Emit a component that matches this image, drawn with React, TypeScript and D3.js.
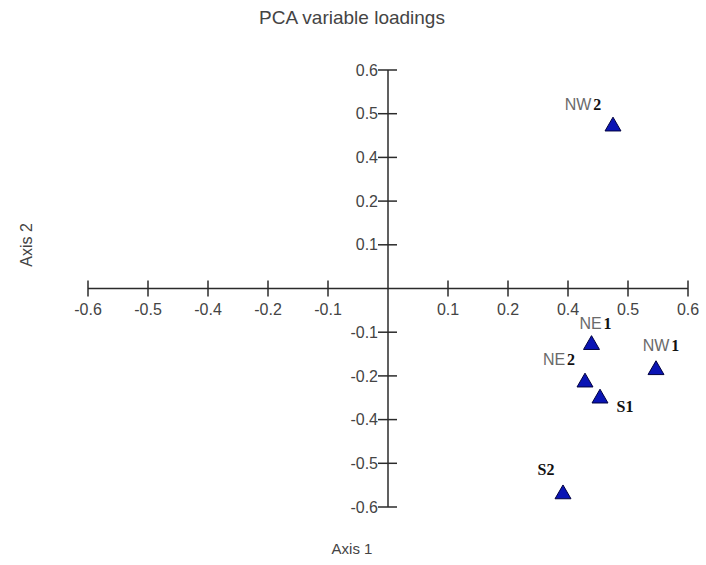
import React from "react";
import * as d3 from "d3";

// loadings
const names = ["NW2", "NE1", "NW1", "NE2", "S1", "S2"];
const axis1 = [0.45, 0.407, 0.536, 0.394, 0.424, 0.35];
const axis2 = [0.448, -0.152, -0.221, -0.255, -0.299, -0.562];

// the original axis ticks sit at steps of 0.12 and are printed with one decimal
const tickSteps = [-5, -4, -3, -2, -1, 1, 2, 3, 4, 5];
const tickValues = [-0.6, ...tickSteps.map((k) => k * 0.12), 0.6].filter(
    (v, i, a) => a.indexOf(v) === i
);

// where each point label sits relative to its marker (dx, dy)
const labelOffsets = [
    [-30, -15],
    [4, -15],
    [5, -18],
    [-26, -16],
    [25, 15],
    [-17, -18],
];

const fmt = (d: number) => d.toFixed(1);

export default function App() {
    const ref = React.useRef<HTMLDivElement>(null);

    React.useEffect(() => {
        d3.select(ref.current).select("svg").remove();
        drawChart();
    }, []);

    function drawChart() {
        const width = 706;
        const height = 565;
        const svg = d3
            .select(ref.current)
            .append("svg")
            .attr("width", width)
            .attr("height", height)
            .style("position", "absolute")
            .style("left", 0)
            .style("top", 0)
            .style("background", "#fff");

        const x = d3.scaleLinear().domain([-0.6, 0.6]).range([88, 688]);
        const y = d3.scaleLinear().domain([-0.6, 0.6]).range([507, 70]);

        const axisColor = "#2b2b2b";
        const textColor = "#444";
        const font = "Arial, 'Liberation Sans', sans-serif";

        // title
        svg.append("text")
            .attr("x", 352)
            .attr("y", 24)
            .attr("text-anchor", "middle")
            .attr("font-family", font)
            .attr("font-size", 19)
            .attr("fill", textColor)
            .text("PCA variable loadings");

        // horizontal axis through y = 0
        const gx = svg.append("g").attr("transform", `translate(0,${y(0)})`);
        gx.append("line")
            .attr("x1", x(-0.6))
            .attr("x2", x(0.6))
            .attr("stroke", axisColor)
            .attr("stroke-width", 1.5);
        const xt = gx
            .selectAll("g.tick")
            .data(tickValues)
            .enter()
            .append("g")
            .attr("transform", (d) => `translate(${x(d)},0)`);
        xt.append("line")
            .attr("y1", -8)
            .attr("y2", 8)
            .attr("stroke", axisColor)
            .attr("stroke-width", 1.5);
        xt.append("text")
            .attr("y", 26)
            .attr("text-anchor", "middle")
            .attr("font-family", font)
            .attr("font-size", 16)
            .attr("fill", textColor)
            .text((d) => fmt(d));

        // vertical axis through x = 0
        const gy = svg.append("g").attr("transform", `translate(${x(0)},0)`);
        gy.append("line")
            .attr("y1", y(0.6))
            .attr("y2", y(-0.6))
            .attr("stroke", axisColor)
            .attr("stroke-width", 1.5);
        const yt = gy
            .selectAll("g.tick")
            .data(tickValues)
            .enter()
            .append("g")
            .attr("transform", (d) => `translate(0,${y(d)})`);
        yt.append("line")
            .attr("x1", -10)
            .attr("x2", 9)
            .attr("stroke", axisColor)
            .attr("stroke-width", 1.5);
        yt.append("text")
            .attr("x", -10)
            .attr("dy", "0.35em")
            .attr("text-anchor", "end")
            .attr("font-family", font)
            .attr("font-size", 16)
            .attr("fill", textColor)
            .text((d) => fmt(d));

        // axis titles
        svg.append("text")
            .attr("x", 352)
            .attr("y", 554)
            .attr("text-anchor", "middle")
            .attr("font-family", font)
            .attr("font-size", 15)
            .attr("fill", textColor)
            .text("Axis 1");
        svg.append("text")
            .attr("transform", "translate(32,245) rotate(-90)")
            .attr("text-anchor", "middle")
            .attr("font-family", font)
            .attr("font-size", 16)
            .attr("fill", textColor)
            .text("Axis 2");

        // points
        const tri = d3.symbol().type(d3.symbolTriangle).size(110);
        svg.selectAll("path.pt")
            .data(names)
            .enter()
            .append("path")
            .attr("d", tri)
            .attr("transform", (d, i) => `translate(${x(axis1[i])},${y(axis2[i]) + 1})`)
            .attr("fill", "#0a14b4")
            .attr("stroke", "#000040")
            .attr("stroke-width", 1);

        // labels: letters in grey sans, digit in bold serif (S labels all serif)
        const labels = svg
            .selectAll("text.lbl")
            .data(names)
            .enter()
            .append("text")
            .attr("x", (d, i) => x(axis1[i]) + labelOffsets[i][0])
            .attr("y", (d, i) => y(axis2[i]) + labelOffsets[i][1])
            .attr("text-anchor", "middle");
        labels.each(function (d) {
            const t = d3.select(this);
            const serif = d.startsWith("S");
            t.append("tspan")
                .attr("font-family", serif ? "'Liberation Serif', 'Times New Roman', serif" : font)
                .attr("font-weight", serif ? "bold" : "normal")
                .attr("font-size", 16)
                .attr("fill", serif ? "#111" : "#6a6a6a")
                .text(d.slice(0, d.length - 1));
            t.append("tspan")
                .attr("dx", serif ? 0 : 2)
                .attr("font-family", "'Liberation Serif', 'Times New Roman', serif")
                .attr("font-weight", "bold")
                .attr("font-size", 16)
                .attr("fill", "#111")
                .text(d.slice(-1));
        });
    }

    return <div ref={ref} />;
}
